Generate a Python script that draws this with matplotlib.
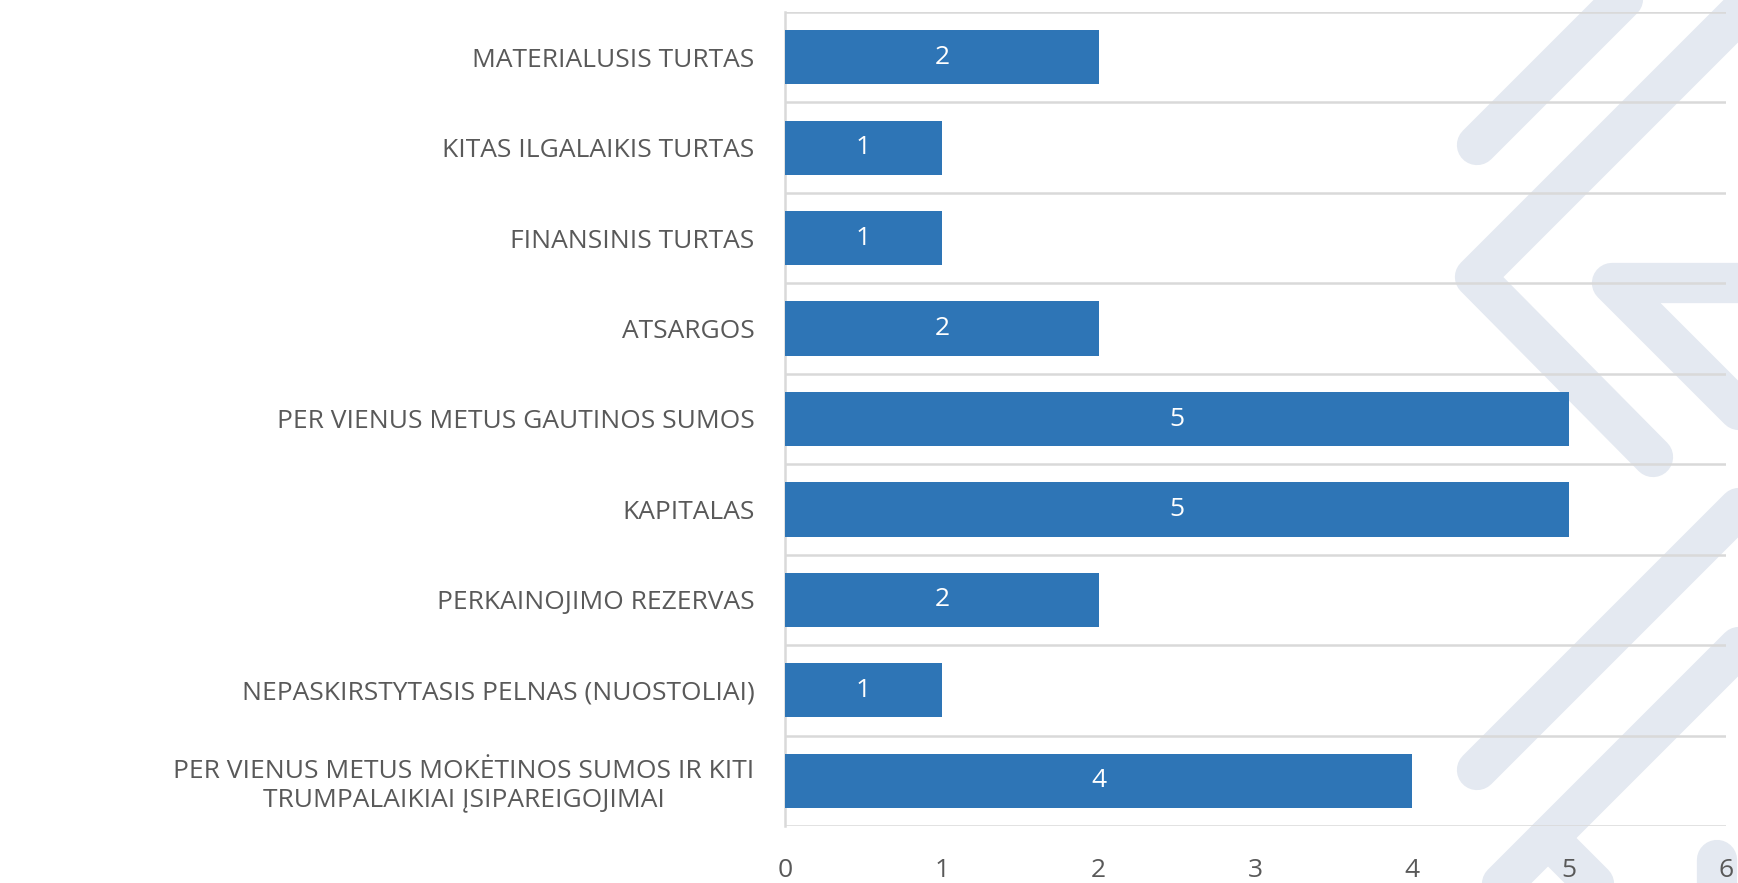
import numpy as np
import matplotlib
matplotlib.use("Agg")
import matplotlib.pyplot as plt
from matplotlib.lines import Line2D

# duomenys
kategorijos = [
    "MATERIALUSIS TURTAS",
    "KITAS ILGALAIKIS TURTAS",
    "FINANSINIS TURTAS",
    "ATSARGOS",
    "PER VIENUS METUS GAUTINOS SUMOS",
    "KAPITALAS",
    "PERKAINOJIMO REZERVAS",
    "NEPASKIRSTYTASIS PELNAS (NUOSTOLIAI)",
    "PER VIENUS METUS MOKĖTINOS SUMOS IR KITI\nTRUMPALAIKIAI ĮSIPAREIGOJIMAI",
]
reiksmes = [2, 1, 1, 2, 5, 5, 2, 1, 4]
x_ticks = [0, 1, 2, 3, 4, 5, 6]

plt.rcParams['font.family'] = ['Open Sans', 'DejaVu Sans']

W, H = 1738, 883
fig = plt.figure(figsize=(W / 100, H / 100), dpi=100)
fig.patch.set_facecolor('white')

# fono vandens zenklas (chevronai) - pikseliu koordinates nuo virsaus
def juosta(xs, ys):
    fx = [x / W for x in xs]
    fy = [1 - y / H for y in ys]
    ln = Line2D(fx, fy, transform=fig.transFigure, color='#e4e9f1', lw=29,
                solid_capstyle='round', solid_joinstyle='round', zorder=-5)
    fig.add_artist(ln)

juosta([1477, 1640], [145, -18])
juosta([1760, 1475, 1653], [-8, 277, 457])
juosta([1780, 1612, 1780], [283, 283, 451])
juosta([1477, 1780], [770, 467])
juosta([1450, 1780], [936, 606])
juosta([1548, 1640], [838, 930])
juosta([1717, 1717], [860, 950])

ax = fig.add_axes([785 / W, 1 - 826 / H, (1726 - 785) / W, (826 - 12) / H])
ax.set_facecolor('none')

y = np.arange(len(kategorijos))
stulpeliai = ax.barh(y, reiksmes, height=0.6, color='#2e75b6', zorder=3)
ax.bar_label(stulpeliai, labels=[str(v) for v in reiksmes], label_type='center',
             color='white', fontsize=19)

ax.set_xlim(0, 6)
ax.set_ylim(len(kategorijos) - 0.5, -0.5)
ax.set_xticks(x_ticks)
ax.set_xticklabels([str(t) for t in x_ticks], color='#595959', fontsize=19)
ax.set_yticks(y)
ax.set_yticklabels(kategorijos, color='#595959', fontsize=19, multialignment='center')
ax.tick_params(axis='both', length=0)
ax.tick_params(axis='y', pad=22)
ax.tick_params(axis='x', pad=23)

ax.set_yticks(np.arange(-0.5, len(kategorijos)), minor=True)
ax.tick_params(axis='y', which='minor', length=0)
ax.grid(which='minor', axis='y', color='#d9d9d9', lw=1.8, zorder=1)
ax.grid(which='major', visible=False)

for s in ['top', 'right', 'bottom']:
    ax.spines[s].set_visible(False)
ax.spines['left'].set_color('#d9d9d9')
ax.spines['left'].set_linewidth(1.8)

fig.savefig('out.png', dpi=100)
